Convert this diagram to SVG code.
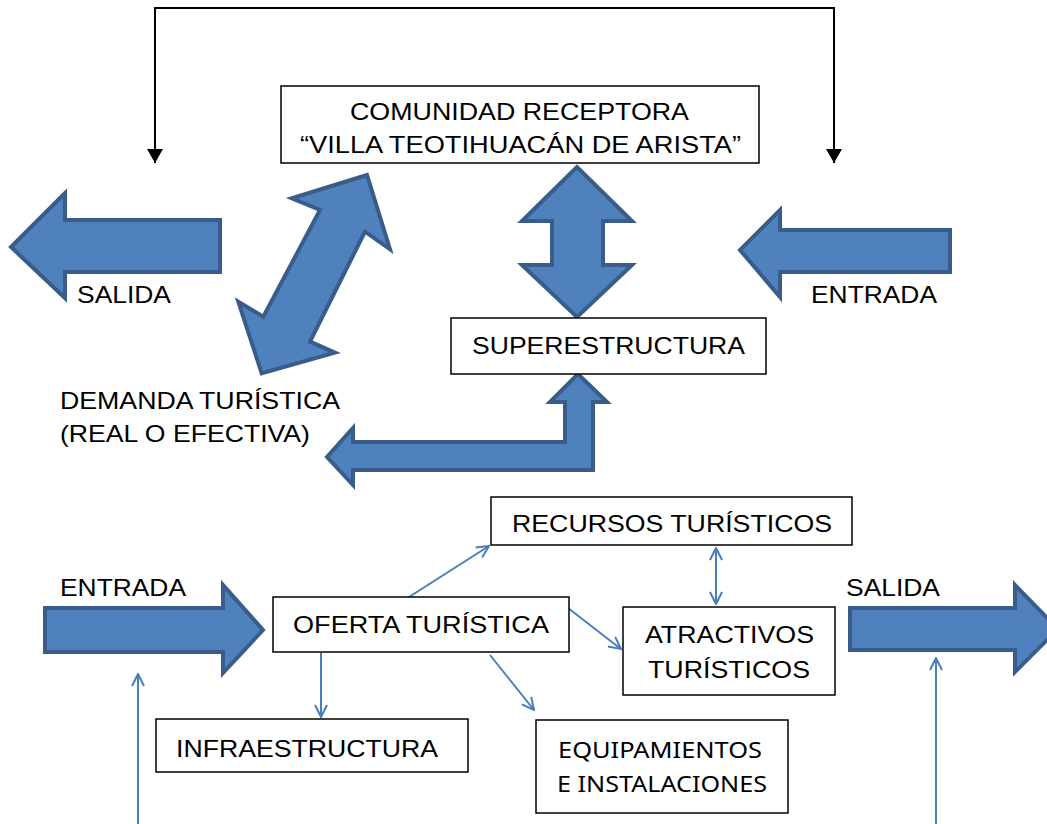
<svg xmlns="http://www.w3.org/2000/svg" width="1047" height="824" viewBox="0 0 1047 824">
<defs>
<style>
.t{font-family:"Liberation Sans",Arial,sans-serif;font-size:24px;fill:#000}
.c{font-family:"Noto Sans","Open Sans",sans-serif;font-size:22px;fill:#000}
.box{fill:#fff;stroke:#000;stroke-width:1.5}
.big{fill:#4f81bd;stroke:#385d8a;stroke-width:4;stroke-linejoin:miter}
.thin{fill:none;stroke:#4a7ebb;stroke-width:2}
.blk{fill:none;stroke:#000;stroke-width:2}
</style>
<marker id="open" viewBox="0 0 14 14" refX="13" refY="7" markerWidth="14" markerHeight="14" markerUnits="userSpaceOnUse" orient="auto-start-reverse">
<path d="M1,1 L13,7 L1,13" fill="none" stroke="#4a7ebb" stroke-width="2"/>
</marker>
<marker id="solid" viewBox="0 0 14 16" refX="14" refY="8" markerWidth="14" markerHeight="16" markerUnits="userSpaceOnUse" orient="auto">
<path d="M0,0 L14,8 L0,16 Z" fill="#000"/>
</marker>
</defs>

<g id="connectors">
<path class="blk" d="M155,163 L155,8 L834,8 L834,163" marker-end="url(#solid)"/>
<path class="blk" d="M155,9 L155,163" marker-end="url(#solid)"/>
<line class="thin" x1="409" y1="597" x2="489" y2="546" marker-end="url(#open)"/>
<line class="thin" x1="568" y1="608" x2="621" y2="649" marker-end="url(#open)"/>
<line class="thin" x1="490" y1="655" x2="534" y2="710" marker-end="url(#open)"/>
<line class="thin" x1="321" y1="653" x2="321" y2="717" marker-end="url(#open)"/>
<line class="thin" x1="716" y1="548" x2="716" y2="604" marker-start="url(#open)" marker-end="url(#open)"/>
<line class="thin" x1="138" y1="824" x2="138" y2="674" marker-end="url(#open)"/>
<line class="thin" x1="936" y1="824" x2="936" y2="658" marker-end="url(#open)"/>
</g>

<g id="arrow-salida-top">
<polygon class="big" points="220,220 65,220 65,193 11,247 65,298 65,272 220,272"/>
<text class="t" x="77" y="303" textLength="94" lengthAdjust="spacingAndGlyphs">SALIDA</text>
</g>

<g id="arrow-entrada-top">
<polygon class="big" points="950,230 780,230 780,210 740,250 780,297 780,272 950,272"/>
<text class="t" x="811" y="303" textLength="126" lengthAdjust="spacingAndGlyphs">ENTRADA</text>
</g>

<g id="arrow-diagonal">
<polygon class="big" points="367,175 291.7,198.3 320,210 263.3,316.7 238.3,301.7 261.7,373.3 335,352.7 310,341.7 365,231.7 390,249.3"/>
</g>

<g id="arrow-vertical">
<polygon class="big" points="577,167 522,221 552,221 552,265 522,265 577,317 632,265 603,265 603,221 632,221"/>
</g>

<g id="arrow-bent">
<polygon class="big" points="578,374 550,402 565,402 565,442 353,442 353,428 327,457 353,485 353,470 593,470 593,402 607,402"/>
</g>

<g id="comunidad">
<rect class="box" x="281" y="86" width="478" height="77"/>
<text class="t" x="350" y="120" textLength="339" lengthAdjust="spacingAndGlyphs">COMUNIDAD RECEPTORA</text>
<text class="t" x="300" y="153" textLength="441" lengthAdjust="spacingAndGlyphs">“VILLA TEOTIHUACÁN DE ARISTA”</text>
</g>

<g id="superestructura">
<rect class="box" x="451" y="318" width="315" height="56"/>
<text class="t" x="472" y="354" textLength="273" lengthAdjust="spacingAndGlyphs">SUPERESTRUCTURA</text>
</g>

<g id="demanda">
<text class="t" x="60" y="409" textLength="280" lengthAdjust="spacingAndGlyphs">DEMANDA TURÍSTICA</text>
<text class="t" x="60" y="442" textLength="250" lengthAdjust="spacingAndGlyphs">(REAL O EFECTIVA)</text>
</g>

<g id="recursos">
<rect class="box" x="491" y="497" width="361" height="48"/>
<text class="t" x="512" y="532" textLength="320" lengthAdjust="spacingAndGlyphs">RECURSOS TURÍSTICOS</text>
</g>

<g id="arrow-entrada-bottom">
<polygon class="big" points="45,608 223,608 223,585 263,630 223,673 223,652 45,652"/>
<text class="t" x="60" y="596" textLength="126" lengthAdjust="spacingAndGlyphs">ENTRADA</text>
</g>

<g id="arrow-salida-bottom">
<polygon class="big" points="850,608 1015,608 1015,585 1058,629 1015,672 1015,650 850,650"/>
<text class="t" x="846" y="596" textLength="94" lengthAdjust="spacingAndGlyphs">SALIDA</text>
</g>

<g id="oferta">
<rect class="box" x="273" y="597" width="296" height="55"/>
<text class="t" x="293" y="633" textLength="256" lengthAdjust="spacingAndGlyphs">OFERTA TURÍSTICA</text>
</g>

<g id="atractivos">
<rect class="box" x="623" y="607" width="212" height="88"/>
<text class="t" x="645" y="643" textLength="169" lengthAdjust="spacingAndGlyphs">ATRACTIVOS</text>
<text class="t" x="648" y="678" textLength="162" lengthAdjust="spacingAndGlyphs">TURÍSTICOS</text>
</g>

<g id="infraestructura">
<rect class="box" x="156" y="719" width="312" height="53"/>
<text class="t" x="176" y="757" textLength="262" lengthAdjust="spacingAndGlyphs">INFRAESTRUCTURA</text>
</g>

<g id="equipamientos">
<rect class="box" x="536" y="720" width="252" height="93"/>
<text class="c" x="558" y="758" textLength="204" lengthAdjust="spacingAndGlyphs">EQUIPAMIENTOS</text>
<text class="c" x="557" y="792" textLength="210" lengthAdjust="spacingAndGlyphs">E INSTALACIONES</text>
</g>
</svg>
